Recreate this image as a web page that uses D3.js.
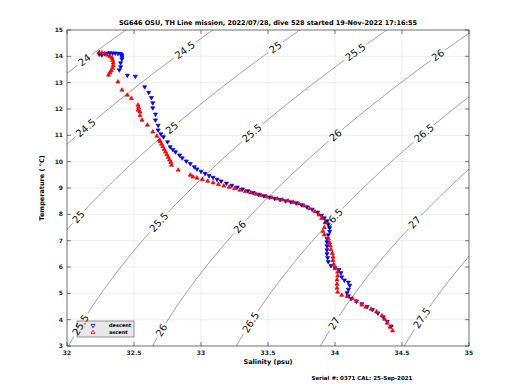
<!DOCTYPE html>
<html>
<head>
<meta charset="utf-8">
<script src="https://cdn.jsdelivr.net/npm/d3@7"></script>
<style>
  body { margin: 0; background: #fff; }
  text { font-family: "DejaVu Sans", sans-serif; }
</style>
</head>
<body>
<svg id="ts" width="520" height="390"></svg>
<script>
// axis ticks
const salinityTicks = [32, 32.5, 33, 33.5, 34, 34.5, 35];
const tempTicks = [3, 4, 5, 6, 7, 8, 9, 10, 11, 12, 13, 14, 15];

// density (sigma-t) contour levels and the temperatures where each is labelled
const sigmaLevels = [24, 24.5, 25, 25.5, 26, 26.5, 27, 27.5];
const labelTemps = [
  [13.86],
  [14.24, 11.28],
  [14.35, 11.28, 7.9],
  [14.16, 11.09, 7.7, 3.8],
  [14.05, 11.0, 7.52, 3.6],
  [11.09, 7.86, 3.91],
  [7.71, 3.87],
  [4.06]
];

// descent samples [salinity, temperature]
const descent = [
  [32.24,14.08],[32.26,14.05],[32.28,14.10],[32.30,14.12],[32.32,14.13],[32.34,14.12],
  [32.36,14.12],[32.38,14.11],[32.40,14.10],[32.41,14.05],[32.41,13.98],[32.41,13.90],
  [32.40,13.75],[32.40,13.60],[32.39,13.48],[32.45,13.28],[32.51,13.24],[32.58,12.84],
  [32.61,12.63],[32.63,12.43],[32.64,12.23],[32.64,12.04],[32.66,11.80],[32.66,11.58],
  [32.68,11.38],[32.68,11.20],[32.70,11.05],[32.72,10.94],[32.75,10.75],[32.77,10.56],
  [32.79,10.46],[32.81,10.37],[32.84,10.25],[32.86,10.14],[32.89,10.02],[32.92,9.92],
  [32.95,9.80],[32.97,9.72],[33.00,9.63],[33.03,9.55],[33.06,9.47],[33.09,9.40],
  [33.12,9.33],[33.15,9.26],[33.19,9.18],[33.23,9.10],[33.27,9.03],[33.31,8.96],
  [33.35,8.89],[33.39,8.82],[33.43,8.76],[33.47,8.70],[33.51,8.65],[33.55,8.60],
  [33.59,8.56],[33.63,8.51],[33.67,8.47],[33.71,8.43],[33.75,8.36],[33.79,8.28],
  [33.83,8.19],[33.87,8.08],[33.90,7.96],[33.92,7.86],[33.94,7.75],[33.95,7.62],
  [33.96,7.48],[33.96,7.35],[33.95,7.22],[33.94,7.08],[33.94,6.95],[33.94,6.80],
  [33.94,6.65],[33.94,6.50],[33.945,6.35],[33.95,6.20],[33.97,6.05],[34.00,5.97],
  [34.03,5.90],[34.045,5.78],[34.05,5.62],[34.07,5.50],[34.10,5.42],[34.11,5.30],
  [34.10,5.15],[34.09,5.02],[34.10,4.90],[34.12,4.80],[34.16,4.70],[34.20,4.60],
  [34.24,4.49],[34.28,4.38],[34.32,4.25],[34.36,4.10],[34.39,3.93],[34.42,3.75]
];

// ascent samples [salinity, temperature]
const ascent = [
  [34.43,3.58],[34.41,3.72],[34.39,3.87],[34.37,4.02],[34.35,4.15],[34.31,4.30],
  [34.27,4.40],[34.23,4.48],[34.20,4.56],[34.16,4.70],[34.13,4.80],[34.09,4.88],
  [34.05,4.93],[34.02,5.05],[34.015,5.20],[34.015,5.35],[34.015,5.51],[34.02,5.66],
  [34.02,5.81],[34.00,5.95],[33.99,6.10],[33.985,6.25],[33.985,6.38],[33.98,6.52],
  [33.97,6.66],[33.965,6.80],[33.96,6.92],[33.95,7.08],[33.92,7.22],[33.91,7.35],
  [33.92,7.50],[33.925,7.68],[33.90,7.85],[33.88,7.98],[33.85,8.10],[33.81,8.22],
  [33.77,8.32],[33.73,8.40],[33.69,8.46],[33.65,8.51],[33.61,8.55],[33.57,8.59],
  [33.53,8.63],[33.49,8.67],[33.45,8.72],[33.41,8.77],[33.37,8.82],[33.33,8.87],
  [33.29,8.92],[33.25,8.98],[33.21,9.03],[33.17,9.08],[33.13,9.14],[33.09,9.20],
  [33.05,9.26],[33.01,9.32],[32.97,9.38],[32.94,9.42],[32.92,9.49],[32.83,9.68],
  [32.78,9.87],[32.775,9.97],[32.765,10.07],[32.755,10.17],[32.745,10.27],[32.735,10.37],
  [32.725,10.47],[32.715,10.57],[32.705,10.67],[32.695,10.77],[32.69,10.82],
  [32.67,10.97],[32.64,11.13],[32.60,11.39],[32.56,11.58],[32.545,11.75],[32.545,11.89],
  [32.53,11.96],[32.535,12.05],[32.53,12.15],[32.48,12.40],[32.45,12.53],[32.41,12.72],
  [32.38,13.03],[32.31,13.29],[32.32,13.37],[32.33,13.45],[32.34,13.55],[32.345,13.65],
  [32.345,13.75],[32.34,13.85],[32.335,13.94],[32.32,14.00],[32.30,14.05],[32.28,14.10],
  [32.26,14.13],[32.24,14.15]
];

let svg = d3.select("#ts");
let margin = {left: 67, right: 51, top: 30, bottom: 44};
let width = 520 - margin.left - margin.right;
let height = 390 - margin.top - margin.bottom;

let x = d3.scaleLinear().domain([32, 35]).range([0, width]);
let y = d3.scaleLinear().domain([3, 15]).range([height, 0]);

let plot = svg.append('g')
    .attr('transform', `translate(${margin.left}, ${margin.top})`);

svg.append('defs').append('clipPath').attr('id', 'clip')
    .append('rect').attr('width', width).attr('height', height);

// grid
plot.append('g').selectAll('line.gx').data(salinityTicks).join('line')
    .attr('x1', d => x(d)).attr('x2', d => x(d))
    .attr('y1', 0).attr('y2', height)
    .attr('stroke', '#e3e3e3').attr('stroke-width', 0.6);
plot.append('g').selectAll('line.gy').data(tempTicks).join('line')
    .attr('y1', d => y(d)).attr('y2', d => y(d))
    .attr('x1', 0).attr('x2', width)
    .attr('stroke', '#e3e3e3').attr('stroke-width', 0.6);

// UNESCO 1980 density at surface pressure, minus 1000
function sigmaT(s, t) {
  let rw = 999.842594 + 6.793952e-2 * t - 9.095290e-3 * t * t + 1.001685e-4 * t ** 3
      - 1.120083e-6 * t ** 4 + 6.536332e-9 * t ** 5;
  let a = 0.824493 - 4.0899e-3 * t + 7.6438e-5 * t * t - 8.2467e-7 * t ** 3 + 5.3875e-9 * t ** 4;
  let b = -5.72466e-3 + 1.0227e-4 * t - 1.6546e-6 * t * t;
  return rw + a * s + b * s ** 1.5 + 4.8314e-4 * s * s - 1000;
}

function salinityAt(level, t) {
  let lo = 25, hi = 40;
  for (let i = 0; i < 50; i++) {
    let mid = (lo + hi) / 2;
    if (sigmaT(mid, t) < level) lo = mid; else hi = mid;
  }
  return (lo + hi) / 2;
}

let contourGroup = plot.append('g').attr('clip-path', 'url(#clip)');
let labelGroup = svg.append('g').attr('transform', `translate(${margin.left}, ${margin.top})`);
let temps = d3.range(2.5, 15.51, 0.02);

sigmaLevels.forEach((level, li) => {
  let pts = temps.map(t => [x(salinityAt(level, t)), y(t)]);
  let cum = [0];
  for (let i = 1; i < pts.length; i++) {
    cum.push(cum[i - 1] + Math.hypot(pts[i][0] - pts[i - 1][0], pts[i][1] - pts[i - 1][1]));
  }
  let gaps = [];
  labelTemps[li].forEach(t => {
    let idx = d3.minIndex(temps, d => Math.abs(d - t));
    let p0 = pts[Math.max(0, idx - 3)], p1 = pts[Math.min(pts.length - 1, idx + 3)];
    let ang = Math.atan2(p1[1] - p0[1], p1[0] - p0[0]) * 180 / Math.PI;
    let label = labelGroup.append('text')
        .attr('transform', `translate(${pts[idx][0]}, ${pts[idx][1]}) rotate(${ang})`)
        .attr('text-anchor', 'middle')
        .attr('dy', '0.35em')
        .attr('font-size', 10)
        .attr('fill', '#111')
        .text(String(level));
    let w = label.node().getComputedTextLength();
    gaps.push([cum[idx] - w / 2 - 2, cum[idx] + w / 2 + 2]);
  });
  let inGap = s => gaps.some(g => s > g[0] && s < g[1]);
  let segs = [];
  let cur = [];
  pts.forEach((p, i) => {
    if (inGap(cum[i])) {
      if (cur.length > 1) segs.push(cur);
      cur = [];
    } else cur.push(p);
  });
  if (cur.length > 1) segs.push(cur);
  contourGroup.selectAll(null).data(segs).join('path')
      .attr('d', d3.line())
      .attr('fill', 'none')
      .attr('stroke', '#333')
      .attr('stroke-width', 0.5);
});

// profile markers
let tri = d3.symbol().type(d3.symbolTriangle).size(7);
let dataGroup = plot.append('g').attr('clip-path', 'url(#clip)');
dataGroup.selectAll('path.down').data(descent).join('path')
    .attr('d', tri)
    .attr('transform', d => `translate(${x(d[0])}, ${y(d[1])}) rotate(180)`)
    .attr('fill', '#0000ff')
    .attr('stroke', '#0000ff')
    .attr('stroke-width', 0.7);
dataGroup.selectAll('path.up').data(ascent).join('path')
    .attr('d', tri)
    .attr('transform', d => `translate(${x(d[0])}, ${y(d[1])})`)
    .attr('fill', '#ff0000')
    .attr('stroke', '#ff0000')
    .attr('stroke-width', 0.7);

// axes box with inward ticks
let axisColor = '#262626';
plot.append('rect').attr('width', width).attr('height', height)
    .attr('fill', 'none').attr('stroke', axisColor).attr('stroke-width', 0.6);

let tickLen = 4;
let ticks = plot.append('g').attr('stroke', axisColor).attr('stroke-width', 0.6);
salinityTicks.forEach(d => {
  ticks.append('line').attr('x1', x(d)).attr('x2', x(d)).attr('y1', height).attr('y2', height - tickLen);
  ticks.append('line').attr('x1', x(d)).attr('x2', x(d)).attr('y1', 0).attr('y2', tickLen);
});
tempTicks.forEach(d => {
  ticks.append('line').attr('y1', y(d)).attr('y2', y(d)).attr('x1', 0).attr('x2', tickLen);
  ticks.append('line').attr('y1', y(d)).attr('y2', y(d)).attr('x1', width).attr('x2', width - tickLen);
});

plot.append('g').selectAll('text').data(salinityTicks).join('text')
    .attr('x', d => x(d)).attr('y', height + 9)
    .attr('text-anchor', 'middle')
    .attr('font-size', 6).attr('font-weight', 'bold').attr('fill', axisColor)
    .text(d => d);
plot.append('g').selectAll('text').data(tempTicks).join('text')
    .attr('x', -4).attr('y', d => y(d)).attr('dy', '0.35em')
    .attr('text-anchor', 'end')
    .attr('font-size', 6).attr('font-weight', 'bold').attr('fill', axisColor)
    .text(d => d);

// labels
svg.append('text').attr('x', margin.left + width / 2).attr('y', 25)
    .attr('text-anchor', 'middle').attr('font-size', 6.5).attr('font-weight', 'bold')
    .text('SG646 OSU, TH Line mission, 2022/07/28, dive 528 started 19-Nov-2022 17:16:55');
svg.append('text').attr('x', margin.left + width / 2).attr('y', 364)
    .attr('text-anchor', 'middle').attr('font-size', 6.5).attr('font-weight', 'bold')
    .text('Salinity (psu)');
svg.append('text')
    .attr('transform', `translate(44, ${margin.top + height / 2}) rotate(-90)`)
    .attr('text-anchor', 'middle').attr('font-size', 6.5).attr('font-weight', 'bold')
    .text('Temperature ( °C)');
svg.append('text').attr('x', 362).attr('y', 380)
    .attr('text-anchor', 'middle').attr('font-size', 5.5).attr('font-weight', 'bold')
    .text('Serial #: 0371  CAL: 25-Sep-2021');

// legend (sits under the contour labels, as in the reference)
let legend = plot.insert('g', () => dataGroup.node().nextSibling)
    .attr('transform', `translate(10, ${height - 25})`);
legend.append('rect').attr('width', 57).attr('height', 16)
    .attr('fill', '#e8e8e8').attr('stroke', '#555').attr('stroke-width', 0.6);
legend.append('path').attr('d', tri)
    .attr('transform', 'translate(16, 4.5) rotate(180)')
    .attr('fill', 'none').attr('stroke', '#0000ff').attr('stroke-width', 0.8);
legend.append('path').attr('d', tri)
    .attr('transform', 'translate(16, 11.5)')
    .attr('fill', 'none').attr('stroke', '#ff0000').attr('stroke-width', 0.8);
legend.append('text').attr('x', 32).attr('y', 4.5).attr('dy', '0.35em')
    .attr('font-size', 5).attr('font-weight', 'bold').text('descent');
legend.append('text').attr('x', 32).attr('y', 11.5).attr('dy', '0.35em')
    .attr('font-size', 5).attr('font-weight', 'bold').text('ascent');
labelGroup.raise();
</script>
</body>
</html>
